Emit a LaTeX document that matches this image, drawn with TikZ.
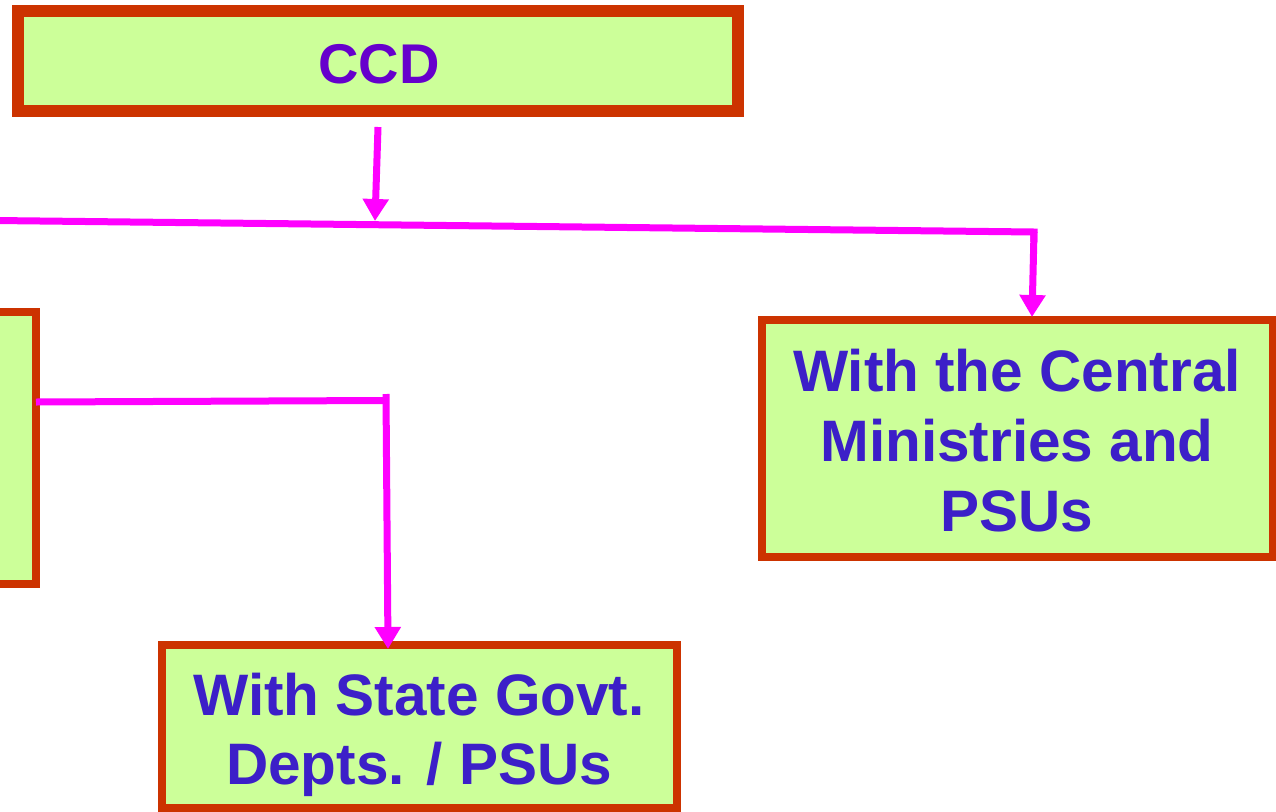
\documentclass[tikz,border=0pt]{standalone}
\usepackage{fontspec}
\setmainfont{Liberation Sans}
\usetikzlibrary{arrows.meta}
\definecolor{boxfill}{HTML}{CCFF99}
\definecolor{boxdraw}{HTML}{CC3300}
\definecolor{conncol}{HTML}{FF00FF}
\definecolor{txtblue}{HTML}{3C1FC8}
\definecolor{txtpurple}{HTML}{6600CC}
\begin{document}
\begin{tikzpicture}[x=1pt,y=-1pt,
  box/.style={rectangle,draw=boxdraw,fill=boxfill,line width=8pt,inner sep=0pt,outer sep=0pt},
  conn/.style={draw=conncol,line width=7pt},
  arr/.style={conn,-{Triangle[length=22pt,width=25pt]}},
  lbl/.style={anchor=base,inner sep=0pt,font=\bfseries\fontsize{58.5}{70}\selectfont,text=txtblue}]
\useasboundingbox (0,0) rectangle (1276,811);
\clip (0,0) rectangle (1276,811);
% boxes
\node[box,line width=12pt,minimum width=720pt,minimum height=100pt] (ccd) at (378,61) {};
\node[box,minimum width=510.5pt,minimum height=237pt] (central) at (1017.25,438.5) {};
\node[box,minimum width=515pt,minimum height=163.5pt] (state) at (419.5,726.25) {};
\node[box,minimum width=96pt,minimum height=272pt] (left) at (-12,448) {};
% texts
\node[lbl,font=\bfseries\fontsize{56}{67}\selectfont,text=txtpurple] (tccd) at (379,83) {CCD};
\node[lbl] (tc1) at (1017,391) {With the Central};
\node[lbl] (tc2) at (1017,461) {Ministries and};
\node[lbl] (tc3) at (1017,531) {PSUs};
\node[lbl] (ts1) at (419,715) {With State Govt.};
\node[lbl] (ts2) at (419,784) {Depts. / PSUs};
% connector points
\coordinate (ccdout) at (378,127);
\coordinate (ccdtip) at (375,221);
\coordinate (hstart) at (-5,220.5);
\coordinate (hcorner) at (1034,232);
\coordinate (lcorner) at (383,400.5);
\coordinate (vtop) at (386,394);
% connectors
\draw[arr] (ccdout) -- (ccdtip);
\draw[conn,line join=miter] (hstart) -- (hcorner) -- ++(-0.2,10);
\draw[arr] (hcorner) -- ([yshift=3pt]central.north -| 1032,0);
\draw[conn] (left.east |- 0,402) -- (lcorner);
\draw[arr] (vtop) -- ([yshift=-4.5pt]state.north -| 388,0);
\end{tikzpicture}
\end{document}
